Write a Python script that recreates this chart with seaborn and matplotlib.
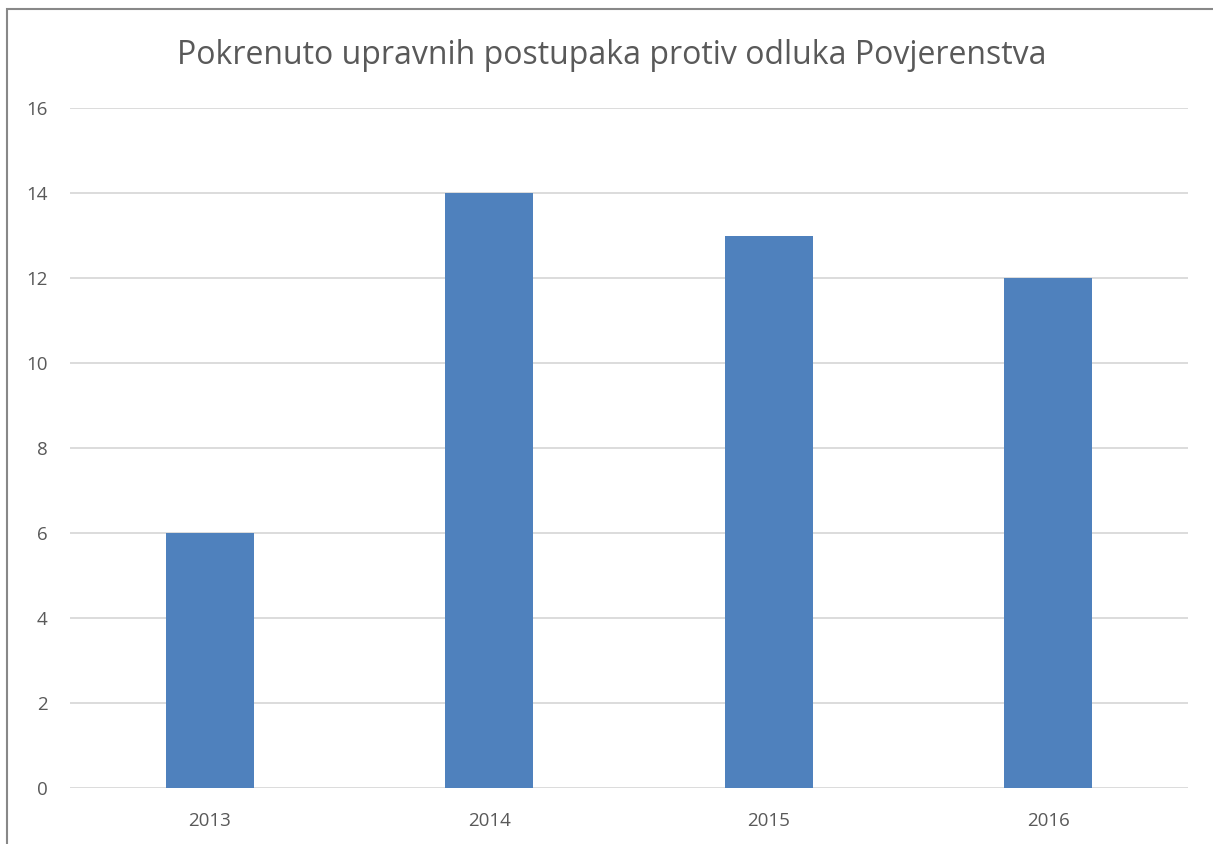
import matplotlib
matplotlib.use("Agg")
import matplotlib.pyplot as plt
import seaborn as sns
import pandas as pd
from matplotlib.patches import Rectangle

years = ["2013", "2014", "2015", "2016"]
counts = [6, 14, 13, 12]
title = "Pokrenuto upravnih postupaka protiv odluka Povjerenstva"

sns.set_style("white")
plt.rcParams["font.family"] = ["Open Sans", "DejaVu Sans"]

df = pd.DataFrame({"godina": years, "broj": counts})

fig = plt.figure(figsize=(12.13, 8.44), dpi=100)
ax = fig.add_axes([70 / 1213, 1 - 788 / 844, 1118 / 1213, 680 / 844])

sns.barplot(data=df, x="godina", y="broj", color="#4F81BD", saturation=1,
            width=0.315, linewidth=0, ax=ax, zorder=3)

ax.set_ylim(0, 16)
ax.set_yticks(range(0, 17, 2))
ax.set_xlim(-0.5, 3.5)
ax.yaxis.grid(True, color="#D9D9D9", linewidth=1.3, zorder=0)
ax.set_axisbelow(True)
sns.despine(ax=ax, left=True, bottom=True, top=True, right=True)
ax.set_xlabel("")
ax.set_ylabel("")
ax.tick_params(axis="both", length=0, labelsize=13.5, labelcolor="#595959")
ax.tick_params(axis="y", pad=16)
ax.tick_params(axis="x", pad=17)

fig.text(612 / 1213, 1 - 55 / 844, title, ha="center", va="center",
         fontsize=23, color="#595959")

# chart border (cut off on the right and bottom)
fig.patches.append(Rectangle((7 / 1213, -0.1), 1.2, (1 - 9 / 844) + 0.1,
                             transform=fig.transFigure, fill=False,
                             edgecolor="#888888", linewidth=1.5))

fig.savefig("out.png", dpi=100)
